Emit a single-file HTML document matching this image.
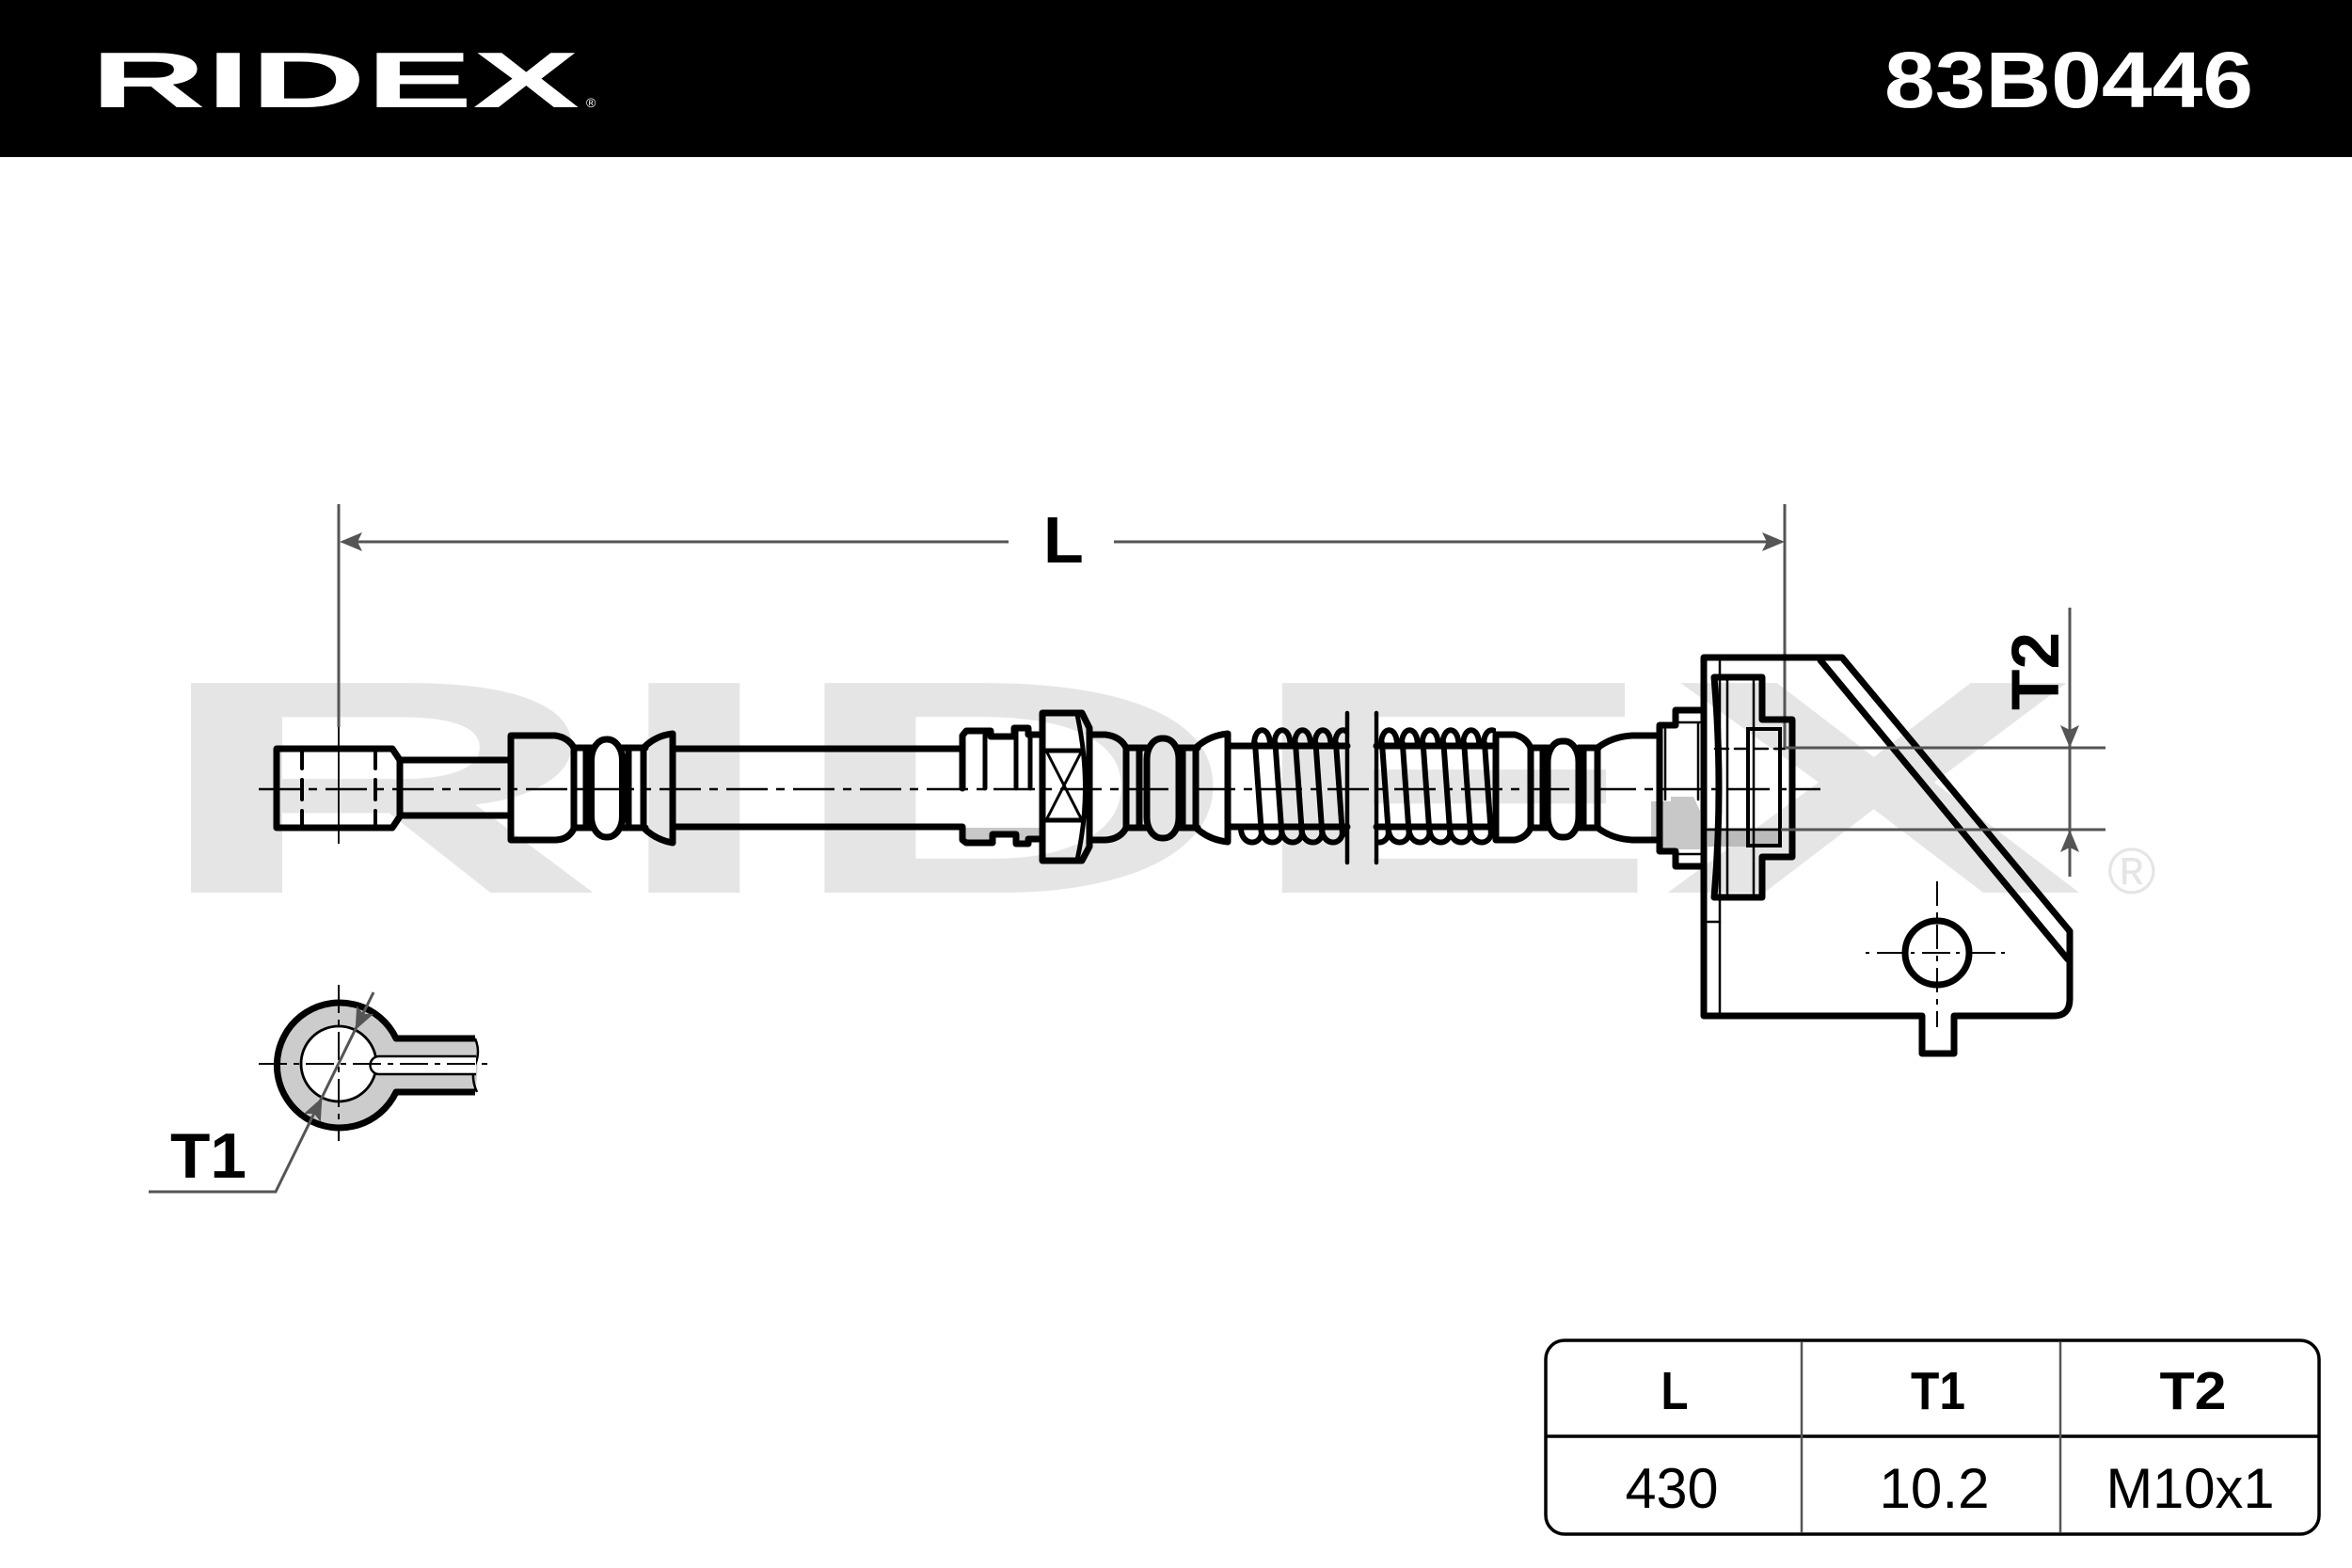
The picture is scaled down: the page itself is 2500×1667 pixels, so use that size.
<!DOCTYPE html>
<html>
<head>
<meta charset="utf-8">
<style>
  html, body { margin:0; padding:0; background:#fff; }
  svg { display:block; }
  text { font-family: "Liberation Sans", Arial, sans-serif; }
</style>
</head>
<body>
<svg width="2500" height="1667" viewBox="0 0 2500 1667" xmlns="http://www.w3.org/2000/svg">
  <defs>
    <clipPath id="clipL"><rect x="1300" y="740" width="132" height="200"/></clipPath>
    <clipPath id="clipR"><rect x="1463" y="740" width="127" height="200"/></clipPath>
  </defs>

  <!-- background -->
  <rect x="0" y="0" width="2500" height="1667" fill="#fff"/>

  <!-- watermark -->
  <text x="158" y="949" font-size="324" font-weight="bold" fill="#e5e5e5" textLength="2058" lengthAdjust="spacingAndGlyphs">RIDEX</text>
  <text x="2240" y="950" font-size="70" fill="#e5e5e5">®</text>

  <!-- header -->
  <rect x="0" y="0" width="2500" height="167" fill="#000"/>
  <text x="96" y="114" font-size="84" font-weight="bold" fill="#fff" textLength="520" lengthAdjust="spacingAndGlyphs">RIDEX</text>
  <text x="623" y="114" font-size="14" fill="#fff">®</text>
  <text x="2003" y="114" font-size="84" font-weight="bold" fill="#fff" textLength="392" lengthAdjust="spacingAndGlyphs">83B0446</text>

  <!-- ===== L dimension ===== -->
  <g stroke="#555" stroke-width="3" fill="none">
    <line x1="360" y1="536" x2="360" y2="773"/>
    <line x1="1897" y1="536" x2="1897" y2="796"/>
    <line x1="375" y1="576" x2="1072" y2="576"/>
    <line x1="1184" y1="576" x2="1883" y2="576"/>
  </g>
  <polygon points="361,576 385,566 380,576 385,586" fill="#555"/>
  <polygon points="1897,576 1873,566 1878,576 1873,586" fill="#555"/>
  <text x="1109" y="598" font-size="70" font-weight="bold" fill="#000">L</text>

  <!-- thin black line through left fitting -->
  <line x1="360" y1="773" x2="360" y2="897" stroke="#000" stroke-width="1.8"/>

  <!-- ===== gray fills ===== -->
  <polygon points="1755,852 1776,852 1776,847 1800,847 1807,862 1807,903 1766,903 1766,893 1755,893" fill="#c8c8c8"/>
  <rect x="1815" y="880" width="78" height="20" fill="#bbb"/>
  <path d="M1023,880 L1023,895 L1055,895 L1055,887 L1080,887 L1080,897 L1092,897 L1092,892 L1106,892 L1106,880 Z" fill="#c8c8c8"/>

  <!-- ===== hose drawing ===== -->
  <g stroke="#000" stroke-width="7" fill="none" stroke-linejoin="round" stroke-linecap="round">
    <!-- left hex end -->
    <path d="M294,796 L417,796 L425,808 L425,868 L417,880 L294,880 Z"/>
    <!-- tube -->
    <line x1="425" y1="808" x2="543" y2="808"/>
    <line x1="425" y1="867" x2="543" y2="867"/>
    <!-- sleeve 1 -->
    <path d="M543,782 L590,782 Q604,784 610,795 L610,881 Q604,893 590,893 L543,893 Z"/>
    <line x1="610" y1="795" x2="630" y2="795"/>
    <line x1="610" y1="880" x2="630" y2="880"/>
    <line x1="623" y1="795" x2="623" y2="880"/>
    <rect x="628.5" y="786" width="33" height="104" rx="16" ry="22"/>
    <line x1="661" y1="795" x2="686" y2="795"/>
    <line x1="661" y1="880" x2="686" y2="880"/>
    <line x1="668" y1="795" x2="668" y2="880"/>
    <line x1="684" y1="795" x2="684" y2="880"/>
    <path d="M684,795 Q697,782 715,780 L715,896 Q697,893 684,880"/>
    <!-- hose -->
    <line x1="715" y1="796" x2="1023" y2="796"/>
    <line x1="715" y1="879" x2="1023" y2="879"/>

    <!-- fitting before nut -->
    <path d="M1023,838 L1023,782 L1027,777 L1053,777 L1053,783 L1078,783 L1078,774 L1093,774 L1093,781 L1108,781"/>
    <path d="M1023,880 L1023,893 L1027,896 L1055,896 L1055,887 L1080,887 L1080,897 L1093,897 L1093,892 L1108,892"/>
    <!-- nut -->
    <path d="M1108,758 L1150,758 L1158,774 L1158,900 L1150,915 L1108,915 Z"/>
    <!-- after nut -->
    <path d="M1158,781 L1175,781 Q1191,783 1197,795 L1197,880 Q1191,892 1175,893 L1158,893"/>
    <line x1="1197" y1="795" x2="1219" y2="795"/>
    <line x1="1197" y1="880" x2="1219" y2="880"/>
    <line x1="1211" y1="795" x2="1211" y2="880"/>
    <rect x="1219" y="785" width="34" height="106" rx="16" ry="22"/>
    <line x1="1253" y1="795" x2="1273" y2="795"/>
    <line x1="1253" y1="880" x2="1273" y2="880"/>
    <line x1="1257" y1="795" x2="1257" y2="880"/>
    <line x1="1271" y1="795" x2="1271" y2="880"/>
    <path d="M1271,795 Q1285,782 1305,780 L1305,895 Q1285,893 1271,880"/>

    <!-- hose segments under springs -->
    <line x1="1305" y1="793" x2="1432" y2="793"/>
    <line x1="1305" y1="879" x2="1432" y2="879"/>
    <line x1="1463" y1="793" x2="1590" y2="793"/>
    <line x1="1463" y1="879" x2="1590" y2="879"/>

    <!-- right group -->
    <path d="M1590,781 L1610,781 Q1622,784 1627,795 L1627,880 Q1622,891 1610,893 L1590,893 Z"/>
    <line x1="1627" y1="795" x2="1646" y2="795"/>
    <line x1="1627" y1="880" x2="1646" y2="880"/>
    <line x1="1640" y1="795" x2="1640" y2="880"/>
    <rect x="1645" y="788" width="33" height="102" rx="15" ry="22"/>
    <line x1="1678" y1="795" x2="1699" y2="795"/>
    <line x1="1678" y1="880" x2="1699" y2="880"/>
    <line x1="1683" y1="795" x2="1683" y2="880"/>
    <line x1="1698" y1="795" x2="1698" y2="880"/>
    <path d="M1698,795 Q1714,783 1735,782 L1764,782"/>
    <path d="M1698,880 Q1714,892 1735,893 L1764,893"/>
    <!-- stepped part -->
    <path d="M1808,755 L1781,755 L1781,771 L1764,771 L1764,905 L1781,905 L1781,921 L1808,921"/>

    <!-- plate -->
    <path d="M1811,699 L1958,699 L2200,990 L2200,1062 Q2200,1080 2183,1080 L2077,1080 L2077,1120 L2043,1120 L2043,1080 L1811,1080 Z"/>
    <line x1="1935" y1="702" x2="2198" y2="1020"/>
    <!-- nut behind plate -->
    <path d="M1822,720 L1873,720 L1873,765 L1905,765 L1905,911 L1873,911 L1873,954 L1822,954 Q1832,838 1822,720 Z"/>
    <!-- hole -->
    <circle cx="2059" cy="1013" r="34"/>
  </g>

  <!-- thinner details -->
  <g stroke="#000" fill="none" stroke-linecap="round">
    <!-- hex dashed threads -->
    <g stroke-width="4">
      <line x1="321" y1="800" x2="321" y2="817"/>
      <line x1="321" y1="829" x2="321" y2="850"/>
      <line x1="321" y1="862" x2="321" y2="876"/>
      <line x1="399" y1="800" x2="399" y2="817"/>
      <line x1="399" y1="829" x2="399" y2="850"/>
      <line x1="399" y1="862" x2="399" y2="876"/>
    </g>
    <!-- fitting verticals before nut -->
    <g stroke-width="5">
      <line x1="1047" y1="781" x2="1047" y2="838"/>
      <line x1="1080" y1="777" x2="1080" y2="838"/>
      <line x1="1095" y1="781" x2="1095" y2="838"/>
      <line x1="1112" y1="798" x2="1150" y2="798"/>
      <line x1="1112" y1="872" x2="1150" y2="872"/>
      <path d="M1145,760 Q1162,838 1145,914"/>
    </g>
    <line x1="1113" y1="800" x2="1149" y2="870" stroke-width="3"/>
    <line x1="1149" y1="800" x2="1113" y2="870" stroke-width="3"/>

    <!-- break lines -->
    <line x1="1432" y1="758" x2="1432" y2="917" stroke-width="4.5"/>
    <line x1="1463" y1="758" x2="1463" y2="917" stroke-width="4.5"/>

    <!-- stepped part thin -->
    <g stroke-width="2.5">
      <line x1="1781" y1="768" x2="1808" y2="768"/>
      <line x1="1781" y1="908" x2="1808" y2="908"/>
      <line x1="1770" y1="775" x2="1770" y2="850"/>
      <line x1="1805" y1="770" x2="1805" y2="850"/>
      <!-- plate thin line -->
      <line x1="1828" y1="703" x2="1828" y2="1077"/>
      <line x1="1815" y1="980" x2="1828" y2="980"/>
      <!-- nut internal lines -->
      <line x1="1836" y1="723" x2="1836" y2="951"/>
      <line x1="1864" y1="723" x2="1864" y2="951"/>
    </g>
    <rect x="1858" y="775" width="34" height="124" stroke-width="4"/>
    <line x1="1823" y1="796" x2="1897" y2="796" stroke-width="2.5" stroke-dasharray="14 7"/>
    <line x1="1815" y1="882" x2="1897" y2="882" stroke-width="2.5"/>

    <!-- hole centerlines -->
    <line x1="1983" y1="1013" x2="2135" y2="1013" stroke-width="2" stroke-linecap="butt" stroke-dasharray="4 8 30 6"/>
    <line x1="2059" y1="937" x2="2059" y2="1092" stroke-width="2" stroke-linecap="butt" stroke-dasharray="26 7 6 7"/>
  </g>

  <!-- springs -->
  <g stroke="#000" stroke-width="6" fill="none" stroke-linecap="round" clip-path="url(#clipL)">
    <path d="M1333,792 C1333,771 1350,771 1350,792 M1334,790 L1341,888 M1341,884 C1341,900 1319,900 1319,880"/>
    <path d="M1354.5,792 C1354.5,771 1371.5,771 1371.5,792 M1355.5,790 L1362.5,888 M1362.5,884 C1362.5,900 1340.5,900 1340.5,880"/>
    <path d="M1376,792 C1376,771 1393,771 1393,792 M1377,790 L1384,888 M1384,884 C1384,900 1362,900 1362,880"/>
    <path d="M1397.5,792 C1397.5,771 1414.5,771 1414.5,792 M1398.5,790 L1405.5,888 M1405.5,884 C1405.5,900 1383.5,900 1383.5,880"/>
    <path d="M1419,792 C1419,771 1436,771 1436,792 M1420,790 L1427,888 M1427,884 C1427,900 1405,900 1405,880"/>
  </g>
  <g stroke="#000" stroke-width="6" fill="none" stroke-linecap="round" clip-path="url(#clipR)">
    <path d="M1468,792 C1468,771 1485,771 1485,792 M1469,790 L1476,888 M1476,884 C1476,900 1454,900 1454,880"/>
    <path d="M1489.8,792 C1489.8,771 1506.8,771 1506.8,792 M1490.8,790 L1497.8,888 M1497.8,884 C1497.8,900 1475.8,900 1475.8,880"/>
    <path d="M1511.6,792 C1511.6,771 1528.6,771 1528.6,792 M1512.6,790 L1519.6,888 M1519.6,884 C1519.6,900 1497.6,900 1497.6,880"/>
    <path d="M1533.4,792 C1533.4,771 1550.4,771 1550.4,792 M1534.4,790 L1541.4,888 M1541.4,884 C1541.4,900 1519.4,900 1519.4,880"/>
    <path d="M1555.2,792 C1555.2,771 1572.2,771 1572.2,792 M1556.2,790 L1563.2,888 M1563.2,884 C1563.2,900 1541.2,900 1541.2,880"/>
    <path d="M1577,792 C1577,771 1594,771 1594,792 M1578,790 L1585,888 M1585,884 C1585,900 1563,900 1563,880"/>
  </g>

  <!-- main centerline -->
  <line x1="275" y1="839" x2="1935" y2="839" stroke="#000" stroke-width="2.5" stroke-dasharray="44 9 9 9"/>

  <!-- ===== T2 dimension ===== -->
  <g stroke="#555" stroke-width="3" fill="none">
    <line x1="1897" y1="795" x2="2238" y2="795"/>
    <line x1="1893" y1="882" x2="2238" y2="882"/>
    <line x1="2200" y1="646" x2="2200" y2="932"/>
  </g>
  <polygon points="2200,795 2190,771 2200,776 2210,771" fill="#555"/>
  <polygon points="2200,882 2190,906 2200,901 2210,906" fill="#555"/>
  <text transform="translate(2188,755) rotate(-90)" font-size="71" font-weight="bold" fill="#000" textLength="83" lengthAdjust="spacingAndGlyphs">T2</text>

  <!-- ===== T1 eye ===== -->
  <path d="M421,1104 L505,1104 Q510,1132 505,1161 L421,1161 A66.5,66.5 0 1,1 421,1104 Z" fill="#cccccc"/>
  <path d="M505,1104 L421,1104 A66.5,66.5 0 1,0 421,1161 L505,1161" fill="none" stroke="#000" stroke-width="7" stroke-linejoin="round"/>
  <path d="M505,1104 Q511,1118 505,1132 Q500,1146 507,1161" fill="none" stroke="#000" stroke-width="2.5"/>
  <circle cx="360" cy="1131" r="40" fill="#fff" stroke="#000" stroke-width="2.8"/>
  <path d="M506,1123 L403,1123 A9.5,9.5 0 0,0 403,1142 L506,1142" fill="#fff" stroke="#000" stroke-width="2.5"/>
  <g stroke="#000" stroke-width="2" fill="none">
    <line x1="275" y1="1131" x2="520" y2="1131" stroke-dasharray="30 7 6 7"/>
    <line x1="360" y1="1047" x2="360" y2="1213" stroke-dasharray="30 7 6 7"/>
  </g>
  <polyline points="158,1267 293,1267 397,1055" fill="none" stroke="#555" stroke-width="3"/>
  <polygon points="342.4,1166.9 340.8,1192.9 334.0,1184.0 322.8,1184.1" fill="#555"/>
  <polygon points="377.6,1095.1 397.2,1077.9 386.0,1078.0 379.2,1069.1" fill="#555"/>
  <text x="181" y="1252" font-size="68" font-weight="bold" fill="#000" textLength="81" lengthAdjust="spacingAndGlyphs">T1</text>

  <!-- ===== table ===== -->
  <rect x="1643" y="1425" width="822" height="206" rx="20" ry="20" fill="none" stroke="#000" stroke-width="3.5"/>
  <line x1="1643" y1="1527" x2="2465" y2="1527" stroke="#000" stroke-width="3.5"/>
  <line x1="1915" y1="1427" x2="1915" y2="1629" stroke="#555" stroke-width="2.5"/>
  <line x1="2190" y1="1427" x2="2190" y2="1629" stroke="#555" stroke-width="2.5"/>
  <g font-weight="bold" font-size="57" fill="#000" text-anchor="middle">
    <text x="1780" y="1498" textLength="29" lengthAdjust="spacingAndGlyphs">L</text>
    <text x="2060" y="1498" textLength="58" lengthAdjust="spacingAndGlyphs">T1</text>
    <text x="2331" y="1498" textLength="71" lengthAdjust="spacingAndGlyphs">T2</text>
  </g>
  <g font-size="60" fill="#000" text-anchor="middle">
    <text x="1777" y="1603" textLength="99" lengthAdjust="spacingAndGlyphs">430</text>
    <text x="2056" y="1603" textLength="117" lengthAdjust="spacingAndGlyphs">10.2</text>
    <text x="2328" y="1603" textLength="179" lengthAdjust="spacingAndGlyphs">M10x1</text>
  </g>
</svg>
</body>
</html>
